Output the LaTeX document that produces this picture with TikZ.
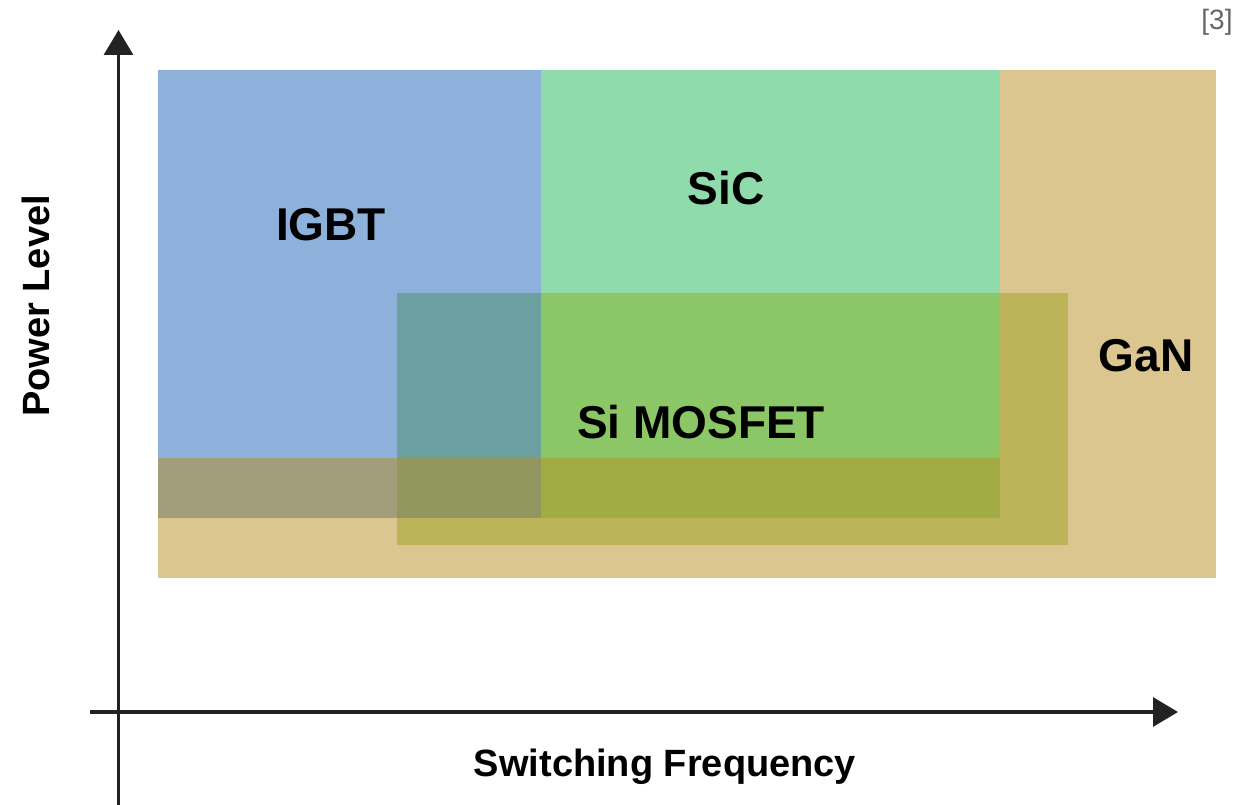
\documentclass[tikz,border=0pt]{standalone}
\usepackage{fontspec}
\setmainfont{Liberation Sans}
\usetikzlibrary{arrows.meta}

\definecolor{ganTan}{HTML}{DBC690}
\definecolor{igbtBlue}{HTML}{8DB1DB}
\definecolor{sicGreen}{HTML}{8FDBAC}
\definecolor{igbtGan}{HTML}{A29E7B}
\definecolor{mosGan}{HTML}{BDB358}
\definecolor{mosIgbt}{HTML}{6C9FA0}
\definecolor{mosIgbtGan}{HTML}{91975E}
\definecolor{mosSic}{HTML}{8BC667}
\definecolor{mosSicGan}{HTML}{A1AC44}
\definecolor{axisGray}{HTML}{222222}

\tikzset{
    axis/.style={line width=3.2pt,draw=axisGray,-{Triangle[width=29pt,length=25pt]}},
    region/.style={font=\bfseries\fontsize{46}{50}\selectfont,inner sep=0pt},
    axislabel/.style={font=\bfseries\fontsize{38}{42}\selectfont,inner sep=0pt}
}

\begin{document}
\begin{tikzpicture}[x=1pt,y=-1pt]
    \useasboundingbox (0,0) rectangle (1253,805);
    % regions
    \fill[ganTan]     (158,70)  rectangle (1216,578);
    \fill[igbtBlue]   (158,70)  rectangle (541,518);
    \fill[sicGreen]   (541,70)  rectangle (1000,518);
    \fill[igbtGan]    (158,458) rectangle (541,518);
    % Si MOSFET overlaps
    \fill[mosGan]     (397,293) rectangle (1068,545);
    \fill[mosIgbt]    (397,293) rectangle (541,458);
    \fill[mosIgbtGan] (397,458) rectangle (541,518);
    \fill[mosSic]     (541,293) rectangle (1000,458);
    \fill[mosSicGan]  (541,458) rectangle (1000,518);
    % labels
    \node[region] (igbt) at (331,225) {IGBT};
    \node[region] (sic) at (726,188) {SiC};
    \node[region] (gan) at (1146,356) {GaN};
    \node[region] (simos) at (701,422) {Si MOSFET};
    \node[inner sep=0pt,text=black!60,font=\fontsize{28}{30}\selectfont] (ref) at (1217,22) {[3]};
    % axes
    \coordinate (yfoot) at (118.5,805);
    \coordinate (ytip) at (118.5,30);
    \coordinate (xfoot) at (90,712);
    \coordinate (xtip) at (1178,712);
    \draw[axis] (yfoot) -- (ytip);
    \draw[axis] (xfoot) -- (xtip);
    \node[axislabel] (xlabel) at (665,767) {Switching Frequency};
    \node[axislabel,rotate=90] (ylabel) at (36,306) {Power Level};
\end{tikzpicture}
\end{document}
